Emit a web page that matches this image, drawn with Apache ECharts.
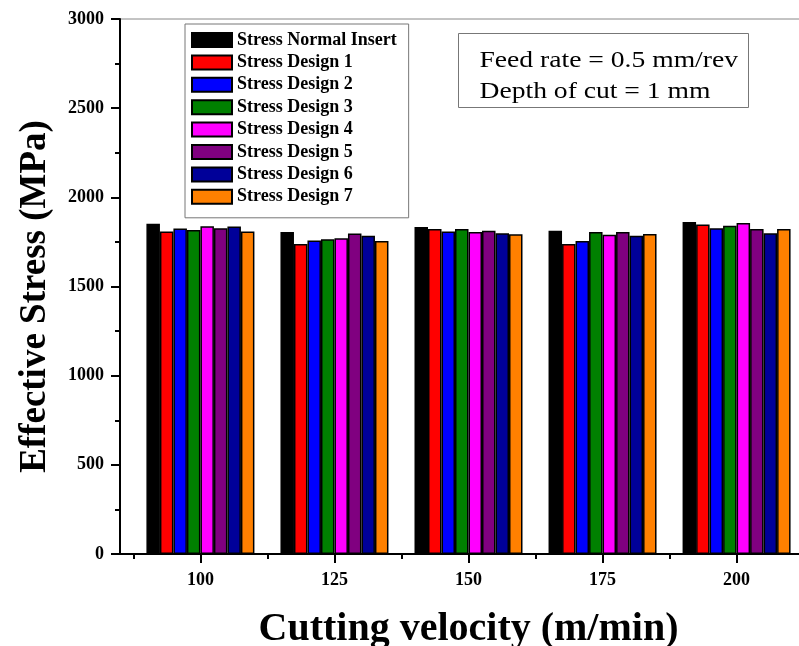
<!DOCTYPE html>
<html>
<head>
<meta charset="utf-8">
<script src="https://cdn.jsdelivr.net/npm/echarts@6/dist/echarts.min.js"></script>
<style>
  html, body { margin: 0; padding: 0; background: #fff; }
  #chart { width: 799px; height: 646px; }
</style>
</head>
<body>
<div id="chart"></div>
<script>
// cutting velocities (m/min)
const velocities = [100, 125, 150, 175, 200];
const majorTicks = [100, 125, 150, 175, 200];
const minorTicks = [87.5, 112.5, 137.5, 162.5, 187.5, 212.5];

// effective stress (MPa)
const normalInsert = [1852, 1805, 1833, 1812, 1862];
const design1 = [1808, 1738, 1823, 1738, 1848];
const design2 = [1825, 1758, 1808, 1755, 1826];
const design3 = [1817, 1765, 1823, 1805, 1840];
const design4 = [1838, 1770, 1805, 1790, 1856];
const design5 = [1826, 1797, 1812, 1805, 1822];
const design6 = [1836, 1784, 1798, 1785, 1798];
const design7 = [1808, 1755, 1793, 1795, 1822];

const seriesNames = ['Stress Normal Insert', 'Stress Design 1', 'Stress Design 2', 'Stress Design 3',
  'Stress Design 4', 'Stress Design 5', 'Stress Design 6', 'Stress Design 7'];
const seriesValues = [normalInsert, design1, design2, design3, design4, design5, design6, design7];
const colors = ['#000000', '#ff0000', '#0000ff', '#008000', '#ff00ff', '#800080', '#000099', '#ff8000'];

const serif = "'Liberation Serif', 'Times New Roman', serif";

var myChart = echarts.init(document.getElementById('chart'));

var option = {
  animation: false,
  grid: {
    left: 120,
    top: 19,
    width: 697,
    bottom: 92,
    outerBoundsMode: 'none',
    show: true,
    borderColor: '#888',
    borderWidth: 1,
    backgroundColor: 'transparent'
  },
  legend: {
    orient: 'vertical',
    left: 185,
    top: 24,
    padding: [7, 12, 12, 6],
    borderColor: '#777',
    borderWidth: 1,
    backgroundColor: '#fff',
    icon: 'rect',
    itemWidth: 40,
    itemHeight: 14,
    itemGap: 4.4,
    itemStyle: { borderColor: '#000', borderWidth: 2 },
    data: seriesNames,
    textStyle: { fontFamily: serif, fontWeight: 'bold', fontSize: 18, color: '#000' }
  },
  xAxis: [
    {
      type: 'value',
      min: 85,
      max: 215,
      name: 'Cutting velocity (m/min)',
      nameLocation: 'middle',
      nameGap: 56,
      nameTextStyle: { fontFamily: serif, fontWeight: 'bold', fontSize: 40, color: '#000' },
      splitLine: { show: false },
      axisLine: { lineStyle: { color: '#000', width: 2 } },
      axisTick: { customValues: majorTicks, length: 9, lineStyle: { width: 2, color: '#000' } },
      axisLabel: {
        customValues: majorTicks,
        margin: 17,
        fontFamily: serif, fontWeight: 'bold', fontSize: 18, color: '#000'
      }
    },
    {
      type: 'value',
      min: 85,
      max: 215,
      position: 'bottom',
      splitLine: { show: false },
      axisLine: { show: false },
      axisTick: { customValues: minorTicks, length: 5, lineStyle: { width: 2, color: '#000' } },
      axisLabel: { show: false }
    }
  ],
  yAxis: {
    type: 'value',
    min: 0,
    max: 3000,
    interval: 500,
    name: 'Effective Stress (MPa)',
    nameLocation: 'middle',
    nameGap: 66,
    nameTextStyle: { fontFamily: serif, fontWeight: 'bold', fontSize: 37, color: '#000', padding: [0, 20, 0, 0] },
    splitLine: { show: false },
    axisLine: { show: true, lineStyle: { color: '#000', width: 2 } },
    axisTick: { show: true, length: 9, lineStyle: { width: 2, color: '#000' } },
    minorTick: { show: true, splitNumber: 2, length: 5, lineStyle: { width: 2, color: '#000' } },
    axisLabel: {
      margin: 16,
      formatter: function (v) { return String(v); },
      fontFamily: serif, fontWeight: 'bold', fontSize: 18, color: '#000'
    }
  },
  graphic: [
    {
      type: 'group',
      left: 458,
      top: 33,
      children: [
        {
          type: 'rect',
          shape: { x: 0, y: 0, width: 290, height: 74 },
          style: { fill: '#fff', stroke: '#777', lineWidth: 1 }
        },
        {
          type: 'text',
          x: 21,
          y: 12,
          scaleX: 1.15,
          style: {
            text: 'Feed rate = 0.5 mm/rev\nDepth of cut = 1 mm',
            font: '24px ' + serif,
            lineHeight: 31,
            fill: '#000'
          }
        }
      ]
    }
  ],
  series: seriesNames.map(function (name, i) {
    return {
      name: name,
      type: 'bar',
      xAxisIndex: 0,
      barWidth: 13.5,
      barGap: '0%',
      itemStyle: { color: colors[i], borderColor: '#000', borderWidth: 1.5 },
      data: velocities.map(function (v, j) { return [v, seriesValues[i][j]]; })
    };
  })
};

myChart.setOption(option);
</script>
</body>
</html>
